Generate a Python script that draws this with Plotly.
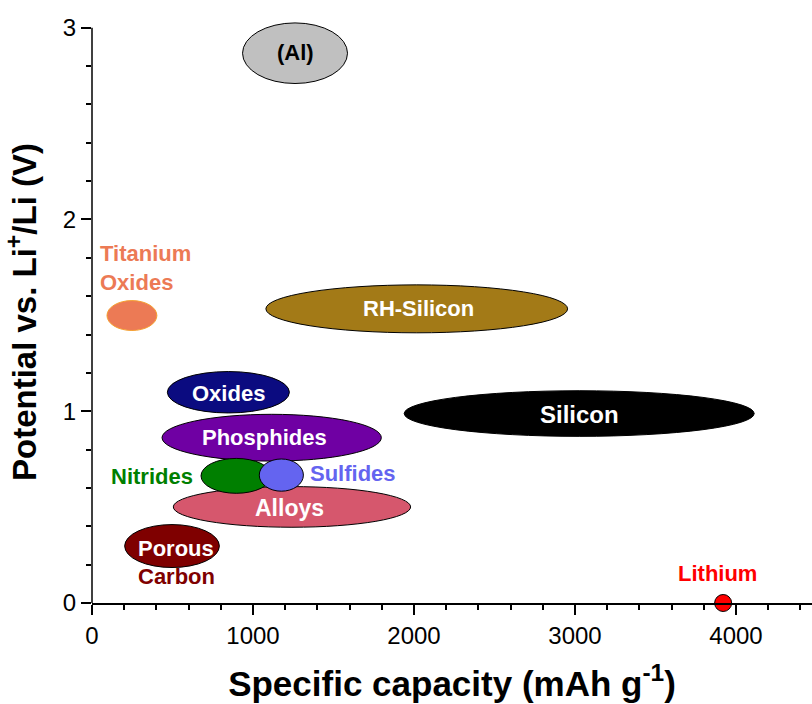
import plotly.graph_objects as go

# Anode material families: capacity span (mAh/g) and potential span (V vs Li+/Li)
materials = ["(Al)", "Titanium Oxides", "RH-Silicon", "Silicon", "Oxides", "Phosphides",
             "Alloys", "Nitrides", "Sulfides", "Porous Carbon"]
cap_center = [1261, 248, 2017, 3026, 847, 1116, 1242, 896, 1176, 497]
cap_half = [326, 155, 937, 1087, 379, 681, 737, 219, 137, 294]
pot_center = [2.867, 1.499, 1.534, 0.988, 1.099, 0.862, 0.501, 0.663, 0.667, 0.297]
pot_half = [0.158, 0.078, 0.125, 0.119, 0.108, 0.122, 0.106, 0.091, 0.084, 0.112]
fill_colors = ["#C0C0C0", "#EC7A55", "#A37A17", "#000000", "#0B0B80", "#6F00A3",
               "#D6576D", "#007F00", "#6464F0", "#7F0000"]
edge_colors = ["#000000", "#F5A030", "#000000", "#000000", "#000000", "#000000",
               "#000000", "#000000", "#000000", "#000000"]

# Labels: text, x, y, colour, size
label_text = ["(Al)", "Titanium<br>Oxides", "RH-Silicon", "Silicon", "Oxides", "Phosphides",
              "Alloys", "Nitrides", "Sulfides", "Porous", "Carbon", "Lithium"]
label_x = [1261, 39, 2030, 3026, 847, 1070, 1225, 370, 1624, 521, 523, 3882]
label_y = [2.87, 1.745, 1.535, 0.985, 1.095, 0.862, 0.494, 0.662, 0.676, 0.284, 0.136, 0.153]
label_color = ["#000000", "#EC7A55", "#FFFFFF", "#FFFFFF", "#FFFFFF", "#FFFFFF",
               "#FFFFFF", "#007F00", "#6464F0", "#FFFFFF", "#7F0000", "#FF0000"]
label_size = [22, 22, 22, 24, 22, 22, 23, 22, 22, 22, 22, 22]
label_anchor = ["center", "left", "center", "center", "center", "center",
                "center", "center", "center", "center", "center", "center"]

lithium_cap = [3920]
lithium_pot = [0]

FONT = "Liberation Sans, Arial, sans-serif"

fig = go.Figure()

shapes = []
for i in range(len(materials)):
    shapes.append(dict(
        type="circle", xref="x", yref="y",
        x0=cap_center[i] - cap_half[i], x1=cap_center[i] + cap_half[i],
        y0=pot_center[i] - pot_half[i], y1=pot_center[i] + pot_half[i],
        fillcolor=fill_colors[i], line=dict(color=edge_colors[i], width=1),
        layer="above",
    ))
# vertical axis line from 0 to 3 V
shapes.append(dict(type="line", xref="paper", yref="y", x0=0, x1=0, y0=0, y1=3,
                   line=dict(color="black", width=1.5)))

fig.add_trace(go.Scatter(
    x=lithium_cap, y=lithium_pot, mode="markers",
    marker=dict(size=17, color="#FF0000", line=dict(color="black", width=1)),
    cliponaxis=False, showlegend=False, hoverinfo="skip",
))

annotations = []
for t, x, y, c, s, a in zip(label_text, label_x, label_y, label_color, label_size, label_anchor):
    annotations.append(dict(
        x=x, y=y, xref="x", yref="y", text="<b>" + t + "</b>", showarrow=False,
        xanchor=a, yanchor="middle", align="left",
        font=dict(family=FONT, size=s, color=c),
    ))

fig.update_layout(
    width=812, height=704,
    margin=dict(l=92, r=0, t=21, b=101),
    paper_bgcolor="white", plot_bgcolor="white",
    showlegend=False,
    shapes=shapes,
    annotations=annotations,
    font=dict(family=FONT, color="black"),
    xaxis=dict(
        range=[0, 4472], tickmode="linear", tick0=0, dtick=1000,
        ticks="outside", ticklen=10, tickwidth=1.5, tickcolor="black",
        minor=dict(dtick=200, ticks="outside", ticklen=5, tickwidth=1.5, tickcolor="black"),
        showline=True, linecolor="black", linewidth=1.5,
        showgrid=False, zeroline=False,
        tickfont=dict(family=FONT, size=24, color="black"),
        title=dict(text="<b>Specific capacity (mAh g<sup>-1</sup>)</b>",
                   font=dict(family=FONT, size=35, color="black"), standoff=24),
    ),
    yaxis=dict(
        range=[0, 3.035], tickmode="linear", tick0=0, dtick=1,
        ticks="outside", ticklen=10, tickwidth=1.5, tickcolor="black",
        minor=dict(dtick=0.2, ticks="outside", ticklen=5, tickwidth=1.5, tickcolor="black"),
        showline=False,
        showgrid=False, zeroline=False,
        tickfont=dict(family=FONT, size=24, color="black"),
        title=dict(text="<b>Potential vs. Li<sup>+</sup>/Li (V)</b>",
                   font=dict(family=FONT, size=33, color="black"), standoff=16),
    ),
)

fig.write_html("out.html")
